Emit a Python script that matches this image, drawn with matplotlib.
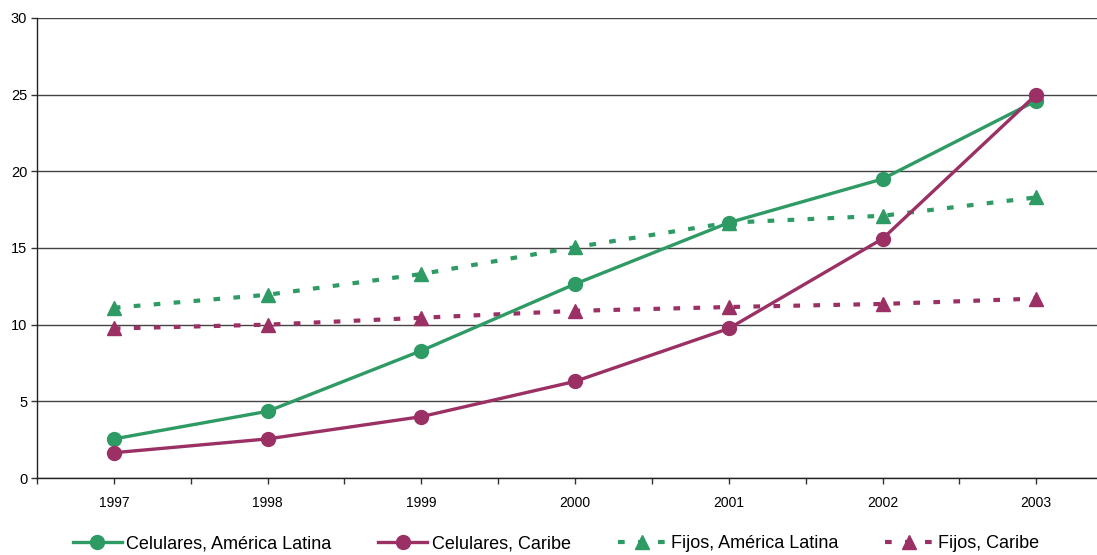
import matplotlib.pyplot as plt
from matplotlib.ticker import MultipleLocator

plt.rcParams['font.family'] = ['Liberation Sans', 'DejaVu Sans']

years = ['1997', '1998', '1999', '2000', '2001', '2002', '2003']
cel_al = [2.55, 4.35, 8.3, 12.65, 16.65, 19.5, 24.6]
cel_caribe = [1.65, 2.55, 4.0, 6.3, 9.75, 15.6, 25.0]
fijos_al = [11.1, 11.95, 13.3, 15.05, 16.65, 17.1, 18.3]
fijos_caribe = [9.75, 10.0, 10.45, 10.9, 11.15, 11.35, 11.7]

green = '#2e9a64'
purple = '#9b3064'

fig = plt.figure(figsize=(10.97, 5.55), dpi=100)
ax = fig.add_axes([0.0337, 0.1387, 0.981, 0.829])

x = range(len(years))
ax.plot(x, cel_al, color=green, lw=2.4, marker='o', ms=10,
        label='Celulares, América Latina', zorder=4)
ax.plot(x, cel_caribe, color=purple, lw=2.4, marker='o', ms=10,
        label='Celulares, Caribe', zorder=5)
ax.plot(x, fijos_al, color=green, lw=3, ls=(0, (1.6, 3.2)), marker='^', ms=10,
        label='Fijos, América Latina', zorder=3)
ax.plot(x, fijos_caribe, color=purple, lw=3, ls=(0, (1.6, 3.2)), marker='^', ms=10,
        label='Fijos, Caribe', zorder=3)

ax.set_xlim(-0.5, 6.5)
ax.set_ylim(0, 30)
ax.set_xticks(list(x))
ax.set_xticklabels(years, fontsize=10)
ax.xaxis.set_minor_locator(MultipleLocator(1, offset=0.5))
ax.tick_params(axis='x', which='both', length=4, width=1, pad=9, color='#333333')
ax.yaxis.set_major_locator(MultipleLocator(5))
ax.tick_params(axis='y', length=4, width=1, labelsize=10.5, pad=3, color='#333333')
ax.grid(axis='y', color='#444444', lw=1)
ax.set_axisbelow(True)
for s in ['top', 'right']:
    ax.spines[s].set_visible(False)
for s in ['left', 'bottom']:
    ax.spines[s].set_color('#222222')
    ax.spines[s].set_linewidth(1)

fig.legend(loc='center', bbox_to_anchor=(0.507, 0.02), ncol=4, frameon=False,
           fontsize=13, handlelength=2.7, columnspacing=2.6, handletextpad=0.25)

fig.savefig('out.png', dpi=100)
